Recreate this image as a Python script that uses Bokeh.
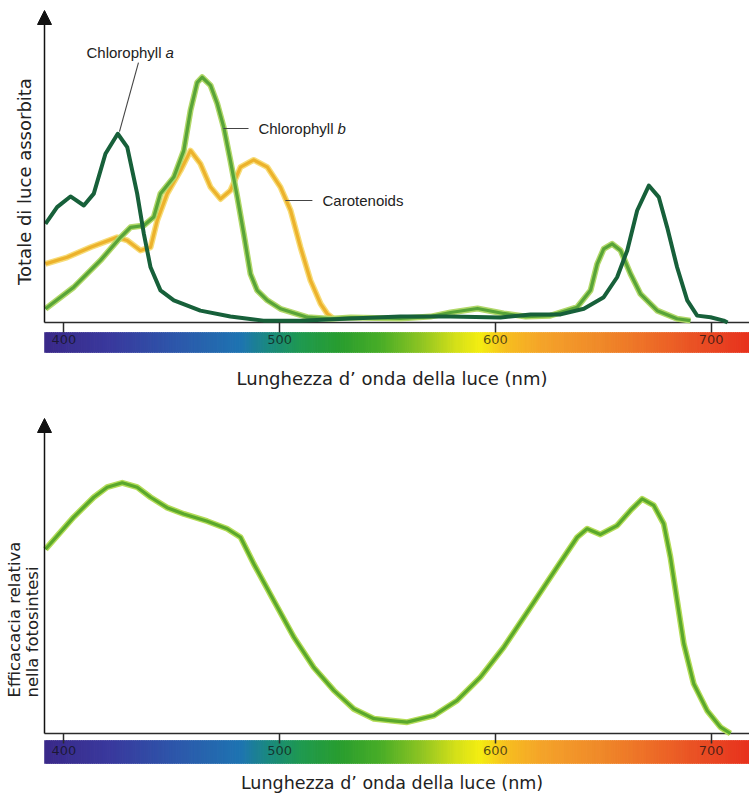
import math
import numpy as np
from bokeh.plotting import figure
from bokeh.layouts import column
from bokeh.models import LinearAxis, FixedTicker, Range1d, Arrow, NormalHead
from bokeh.core.properties import value
from bokeh.embed import file_html
from bokeh.resources import INLINE

# ---------------- data ----------------
tick_values = [400, 500, 600, 700]
x_title = "Lunghezza d\u2019 onda della luce (nm)"
y_title_top = "Totale di luce assorbita"
y_title_bottom = ["Efficacacia relativa", "nella fotosintesi"]

chl_a_wl = [391.5, 396.9, 403.1, 409.3, 413.9, 419.3, 425.0, 429.4, 434.0, 437.1,
            440.2, 444.8, 451.0, 463.3, 477.2, 492.5, 509.7, 532.9, 556.0, 579.2,
            602.4, 616.3, 630.2, 641.0, 650.2, 656.4, 661.1, 665.7, 671.1, 675.7,
            679.6, 684.2, 688.9, 693.5, 699.7, 705.8, 707.6]
chl_a_abs = [0.316, 0.370, 0.404, 0.375, 0.413, 0.541, 0.605, 0.562, 0.413, 0.284,
             0.177, 0.103, 0.071, 0.038, 0.019, 0.006, 0.006, 0.013, 0.019, 0.019,
             0.016, 0.026, 0.026, 0.044, 0.081, 0.145, 0.231, 0.359, 0.439, 0.402,
             0.305, 0.177, 0.071, 0.022, 0.017, 0.006, 0.0]

chl_b_wl = [391.5, 404.6, 417.0, 426.3, 430.9, 437.1, 441.7, 444.8, 451.0, 455.6,
            458.7, 461.8, 464.1, 468.0, 471.1, 474.1, 477.2, 480.4, 483.4, 486.5,
            489.6, 494.3, 500.4, 512.8, 523.6, 532.9, 556.0, 569.9, 579.2, 591.7,
            603.8, 614.0, 625.5, 637.9, 644.1, 647.2, 650.2, 654.1, 658.0, 662.6,
            667.2, 675.0, 684.2, 690.4]
chl_b_abs = [0.044, 0.113, 0.199, 0.273, 0.305, 0.311, 0.338, 0.413, 0.466, 0.551,
             0.679, 0.769, 0.786, 0.760, 0.702, 0.626, 0.519, 0.402, 0.284, 0.156,
             0.103, 0.071, 0.044, 0.017, 0.012, 0.016, 0.013, 0.019, 0.032, 0.045,
             0.029, 0.019, 0.022, 0.049, 0.103, 0.188, 0.236, 0.252, 0.231, 0.156,
             0.092, 0.038, 0.012, 0.006]

car_wl = [391.5, 401.6, 412.4, 424.7, 429.4, 435.5, 440.2, 443.3, 447.9, 454.1,
          458.7, 463.3, 468.0, 472.6, 477.2, 481.9, 488.0, 494.3, 500.4, 505.1,
          509.7, 514.3, 519.0, 522.1, 525.1]
car_abs = [0.188, 0.209, 0.241, 0.273, 0.263, 0.231, 0.241, 0.327, 0.413, 0.487,
           0.551, 0.509, 0.434, 0.396, 0.423, 0.498, 0.521, 0.498, 0.434, 0.359,
           0.241, 0.135, 0.060, 0.028, 0.012]

act_wl = [391.5, 404.6, 413.9, 420.1, 427.1, 434.0, 440.2, 447.9, 455.6, 466.5,
          475.7, 481.9, 488.0, 497.3, 506.6, 515.8, 525.1, 534.4, 543.7, 551.4,
          559.1, 571.5, 582.3, 593.1, 603.9, 616.3, 628.6, 637.9, 642.5, 648.7,
          656.4, 662.6, 668.0, 673.4, 678.0, 681.1, 684.2, 687.3, 691.9, 698.1,
          704.3, 708.9]
act_eff = [0.585, 0.687, 0.750, 0.782, 0.796, 0.782, 0.750, 0.717, 0.697, 0.674,
           0.650, 0.623, 0.539, 0.422, 0.306, 0.210, 0.137, 0.078, 0.047, 0.041,
           0.036, 0.057, 0.105, 0.179, 0.274, 0.401, 0.528, 0.623, 0.650, 0.632,
           0.660, 0.708, 0.745, 0.724, 0.666, 0.560, 0.422, 0.285, 0.158, 0.073,
           0.020, 0.0]

# visible-spectrum colour band stops
spec_wl = [391, 421.6, 454, 482, 495, 510, 528, 547, 565, 581.5, 593, 604.7,
           621, 648.7, 671.9, 695, 717.7]
spec_col = ["#3b2a8a", "#3a3a9e", "#2d5aac", "#1f75b2", "#1b8a80", "#209a50",
            "#2a9e30", "#4aae28", "#8cc424", "#d4e01a", "#f5ee12", "#f8c020",
            "#f5a52a", "#f08a2a", "#ee6e28", "#ea4f25", "#e8321e"]

# labels of the top panel
curve_labels = ["Chlorophyll ", "Chlorophyll ", "Carotenoids"]
curve_label_suffix = ["a", "b"]

# x extent: full canvas width, y axis drawn at X_AXIS
X_LO, X_HI = 370.67, 717.75
X_AXIS = 391.06
PX = 2.158  # pixels per nm


def hex_rgb(h):
    h = h.lstrip("#")
    return [int(h[i:i + 2], 16) for i in (0, 2, 4)]


def band_colors(centers):
    rgb = np.array([hex_rgb(c) for c in spec_col], dtype=float)
    out = []
    for c in centers:
        r = np.interp(c, spec_wl, rgb[:, 0])
        g = np.interp(c, spec_wl, rgb[:, 1])
        b = np.interp(c, spec_wl, rgb[:, 2])
        out.append("#%02x%02x%02x" % (int(r), int(g), int(b)))
    return out


def make_panel(height, y_lo, y_hi, bar_top, bar_bottom):
    p = figure(width=749, height=height,
               x_range=Range1d(X_LO, X_HI), y_range=Range1d(y_lo, y_hi),
               x_axis_type=None, y_axis_type=None,
               toolbar_location=None, output_backend="svg",
               min_border_left=0, min_border_right=0,
               min_border_top=0, min_border_bottom=0,
               outline_line_color=None, background_fill_color="white",
               border_fill_color="white")
    # colour band
    lefts = np.arange(X_AXIS, 718.0, 1.0)
    cols = band_colors(lefts + 0.5)
    p.quad(left=lefts, right=lefts + 1.3, bottom=bar_bottom, top=bar_top,
           fill_color=cols, line_color=cols, line_width=0.6)
    # x axis line (from the y axis to the right edge)
    p.segment(x0=[X_AXIS], y0=[0], x1=[X_HI], y1=[0],
              line_color="#2b2b2b", line_width=1.5)
    # ticks and tick labels at y = 0
    xa = LinearAxis(fixed_location=0, ticker=FixedTicker(ticks=tick_values),
                    axis_line_color=None,
                    major_tick_in=0, major_tick_out=10,
                    major_tick_line_color="#2b2b2b", major_tick_line_width=1.5,
                    minor_tick_line_color=None, major_label_standoff=2,
                    major_label_text_font="DejaVu Sans",
                    major_label_text_font_size="13px",
                    major_label_text_color="#111111",
                    major_label_text_alpha=0.72)
    p.add_layout(xa, "below")
    # y axis with arrow
    p.add_layout(Arrow(end=NormalHead(size=14, fill_color="#111111", line_color="#111111"),
                       x_start=X_AXIS, y_start=0, x_end=X_AXIS, y_end=1.0,
                       line_color="#111111", line_width=1.5))
    return p


# ---------------- top panel ----------------
S1 = 312.0  # pixels per absorbance unit; y = 0 at 322 px
p1 = make_panel(395, -73 / S1, 322 / S1, -10 / S1, -30 / S1)

p1.line(car_wl, car_abs, line_color="#f7dc78", line_width=6, line_join="round")
p1.line(car_wl, car_abs, line_color="#ecb22c", line_width=3.2, line_join="round")
p1.line(chl_b_wl, chl_b_abs, line_color="#b2d86a", line_width=6, line_join="round")
p1.line(chl_b_wl, chl_b_abs, line_color="#58a438", line_width=3.2, line_join="round")
p1.line(chl_a_wl, chl_a_abs, line_color="#17603a", line_width=4, line_join="round")

# leader lines (anchored near the curves they label)
p1.segment(x0=[434.6, 474.0, 502.7], y0=[0.833, 0.622, 0.391],
           x1=[425.8, 485.6, 515.2], y1=[0.612, 0.622, 0.391],
           line_color="#444444", line_width=1.1)
lab_x = [410.5, 490.2, 519.9]
lab_y = [0.865, 0.622, 0.391]
p1.text(x=lab_x, y=lab_y, text=curve_labels, text_font=value("Liberation Sans"),
        text_font_size="15px", text_color="#222222",
        text_align="left", text_baseline="middle")
p1.text(x=lab_x[:2], y=lab_y[:2], text=curve_label_suffix,
        text_font=value("Liberation Sans"), text_font_style="italic",
        text_font_size="15px", text_color="#222222", x_offset=79,
        text_align="left", text_baseline="middle")

p1.text(x=[552.1], y=[-56 / S1], text=[x_title], text_font=value("DejaVu Sans"),
        text_font_size="18px", text_color="#222222",
        text_align="center", text_baseline="middle")
p1.text(x=[X_AXIS - 20 / PX], y=[141 / S1], text=[y_title_top], angle=math.pi / 2,
        text_font=value("DejaVu Sans"), text_font_size="18px", text_color="#222222",
        text_align="center", text_baseline="middle")

# ---------------- bottom panel ----------------
S2 = 315.0  # y = 0 at 338 px inside this figure
p2 = make_panel(400, -62 / S2, 338 / S2, -7 / S2, -30 / S2)
p2.line(act_wl, act_eff, line_color="#b4dc58", line_width=6, line_join="round")
p2.line(act_wl, act_eff, line_color="#5aa82c", line_width=3.2, line_join="round")

p2.text(x=[552.1], y=[-49 / S2], text=[x_title], text_font=value("DejaVu Sans"),
        text_font_size="17.5px", text_color="#222222",
        text_align="center", text_baseline="middle")
p2.text(x=[X_AXIS - 30 / PX, X_AXIS - 12 / PX], y=[36 / S2, 36 / S2],
        text=y_title_bottom, angle=math.pi / 2,
        text_font=value("DejaVu Sans"), text_font_size="16.5px", text_color="#222222",
        text_align="left", text_baseline="middle")

layout = column(p1, p2, spacing=0)
open("out.html", "w").write(file_html(layout, INLINE))
